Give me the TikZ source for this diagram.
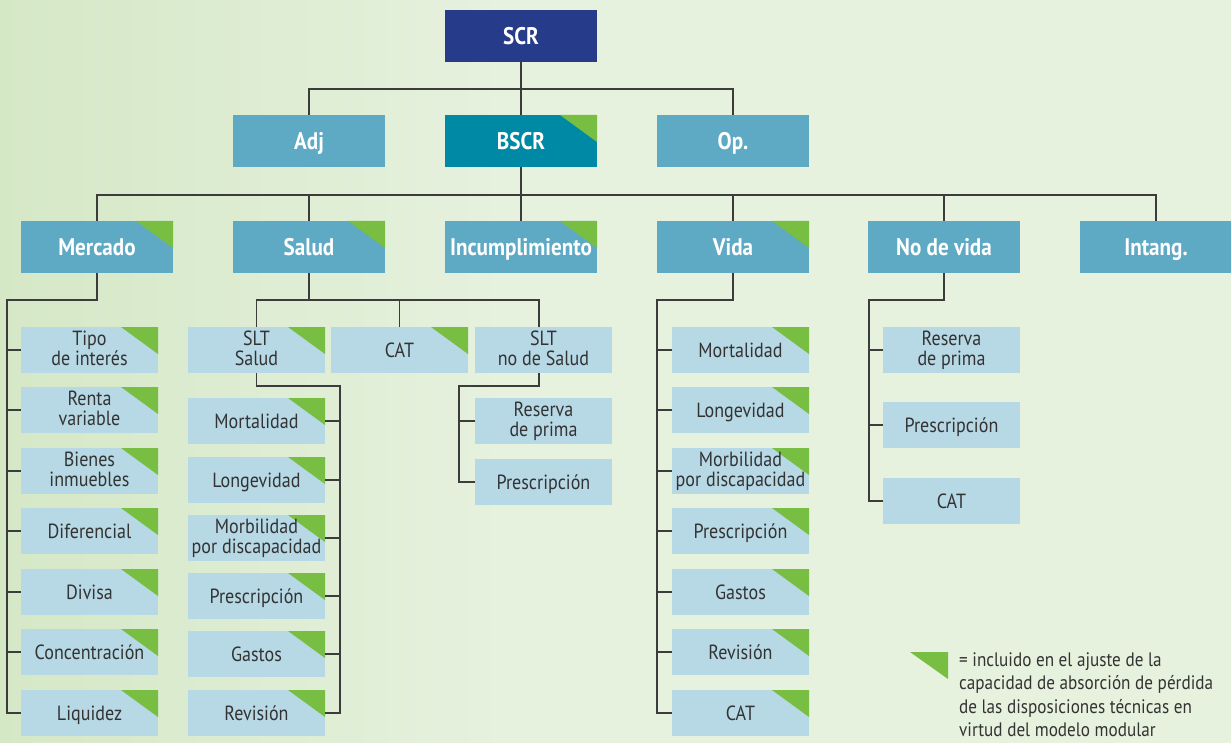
\documentclass[tikz,border=0pt]{standalone}
\usepackage{fontspec}
\setmainfont{PT Sans}[FakeStretch=0.88]
\definecolor{navy}{HTML}{263B8A}
\definecolor{tealb}{HTML}{0089A5}
\definecolor{midb}{HTML}{5EA9C4}
\definecolor{lightb}{HTML}{B7D8E5}
\definecolor{trig}{HTML}{77BE43}
\definecolor{linec}{HTML}{3C3C3C}
\definecolor{txt}{HTML}{333333}
\definecolor{bgA}{HTML}{D5E8C6}
\definecolor{bgB}{HTML}{E6F1DE}
\begin{document}
\begin{tikzpicture}[x=1pt,y=-1pt,
  box/.style={minimum width=152pt,minimum height=52pt,inner sep=0pt,text=white,font=\fontsize{24}{24}\selectfont\bfseries,fill=midb,text height=22.8pt,text depth=5.3pt},
  sub/.style={minimum width=137pt,minimum height=46pt,inner sep=0pt,text=txt,font=\fontsize{20.5}{20}\selectfont,fill=lightb,align=center,
    execute at begin node={\rule{0pt}{18.5pt}},execute at end node={\rule[-4.5pt]{0pt}{0pt}}},
  two/.style={execute at begin node={\rule{0pt}{23pt}}},
  tri/.style={path picture={\fill[trig] (path picture bounding box.north east) -- ++(-37,0) -- ++(37,27) -- cycle;}},
  conn/.style={draw=linec,line width=1.7pt}]
\useasboundingbox (0,0) rectangle (1231,743);
\shade[left color=bgA,right color=bgB] (0,0) rectangle (500,743);
\fill[bgB] (499,0) rectangle (1231,743);
% level 1-2
\node[box,fill=navy] (scr) at (521,36) {SCR};
\node[box] (adj) at (309,141) {Adj};
\node[box,fill=tealb,tri] (bsc) at (521,141) {BSCR};
\node[box] (op) at (733,141) {Op.};
% level 3
\node[box,tri] (merc) at (97,247) {Mercado};
\node[box,tri] (salud) at (309,247) {Salud};
\node[box,tri] (incum) at (521,247) {Incumplimiento};
\node[box,tri] (vida) at (733,247) {Vida};
\node[box] (nvida) at (944,247) {No de vida};
\node[box] (intang) at (1156,247) {Intang.};
% Mercado children
\node[sub,two,tri] (m1) at (89.5,350) {Tipo\\de interés};
\node[sub,two,tri] (m2) at (89.5,410) {Renta\\variable};
\node[sub,two,tri] (m3) at (89.5,471) {Bienes\\inmuebles};
\node[sub,tri] (m4) at (89.5,531) {Diferencial};
\node[sub,tri] (m5) at (89.5,592) {Divisa};
\node[sub,tri] (m6) at (89.5,652) {Concentración};
\node[sub,tri] (m7) at (89.5,713) {Liquidez};
% Salud row
\node[sub,two,tri] (slts) at (256.5,350) {SLT\\Salud};
\node[sub,tri] (scat) at (399.5,350) {CAT};
\node[sub,two] (sltn) at (543.5,350) {SLT\\no de Salud};
% SLT Salud children
\node[sub,tri] (s1) at (256.5,421) {Mortalidad};
\node[sub,tri] (s2) at (256.5,480) {Longevidad};
\node[sub,two,tri] (s3) at (256.5,538) {Morbilidad\\por discapacidad};
\node[sub,tri] (s4) at (256.5,596) {Prescripción};
\node[sub,tri] (s5) at (256.5,654) {Gastos};
\node[sub,tri] (s6) at (256.5,713) {Revisión};
% SLT no de Salud children
\node[sub,two] (n1) at (543.5,421) {Reserva\\de prima};
\node[sub] (n2) at (543.5,482) {Prescripción};
% Vida children
\node[sub,tri] (v1) at (740.5,350) {Mortalidad};
\node[sub,tri] (v2) at (740.5,410) {Longevidad};
\node[sub,two,tri] (v3) at (740.5,471) {Morbilidad\\por discapacidad};
\node[sub,tri] (v4) at (740.5,531) {Prescripción};
\node[sub,tri] (v5) at (740.5,592) {Gastos};
\node[sub,tri] (v6) at (740.5,652) {Revisión};
\node[sub,tri] (v7) at (740.5,713) {CAT};
% No de vida children
\node[sub,two] (d1) at (951.5,350) {Reserva\\de prima};
\node[sub] (d2) at (951.5,425) {Prescripción};
\node[sub] (d3) at (951.5,501) {CAT};
% bus coordinates
\coordinate (busA) at (521,89);
\coordinate (busB) at (521,195);
\coordinate (mA) at (7,300);
\coordinate (sA) at (309,300);
\coordinate (sR) at (340,386);
\coordinate (nR) at (459,386);
\coordinate (vA) at (657,300);
\coordinate (dA) at (869,300);
% connectors
\draw[conn] (scr.south) -- (bsc.north);
\draw[conn] (adj.north) |- (busA) -| (op.north);
\draw[conn] (bsc.south) -- (incum.north);
\draw[conn] (merc.north) |- (busB) -| (intang.north);
\draw[conn] (salud.north) -- (salud.north |- busB);
\draw[conn] (vida.north) -- (vida.north |- busB);
\draw[conn] (nvida.north) -- (nvida.north |- busB);
% Mercado tree
\draw[conn] (merc.south) |- (mA) |- (m7.west);
\foreach \n in {m1,m2,m3,m4,m5,m6} \draw[conn] (mA |- \n.west) -- (\n.west);
% Salud tree
\draw[conn] (salud.south) -- (sA);
\draw[conn] (slts.north) |- (sA) -| ([xshift=-4.5pt]sltn.north);
\draw[conn] (scat.north) -- (scat.north |- sA);
\draw[conn] (slts.south) |- (sR) |- (s6.east);
\foreach \n in {s1,s2,s3,s4,s5} \draw[conn] (sR |- \n.east) -- (\n.east);
\draw[conn] ([xshift=-4.5pt]sltn.south) |- (nR) |- (n2.west);
\draw[conn] (nR |- n1.west) -- (n1.west);
% Vida tree
\draw[conn] (vida.south) |- (vA) |- (v7.west);
\foreach \n in {v1,v2,v3,v4,v5,v6} \draw[conn] (vA |- \n.west) -- (\n.west);
% No de vida tree
\draw[conn] (nvida.south) |- (dA) |- (d3.west);
\foreach \n in {d1,d2} \draw[conn] (dA |- \n.west) -- (\n.west);
% legend
\fill[trig] (910,652) -- (948,652) -- (948,679) -- cycle;
\node[anchor=north west,inner sep=0pt,align=left,text=txt,font=\fontsize{19.5}{23.5}\selectfont] (legend) at (959,652)
  {= incluido en el ajuste de la\\capacidad de absorción de pérdida\\de las disposiciones técnicas en\\virtud del modelo modular};
\end{tikzpicture}
\end{document}
